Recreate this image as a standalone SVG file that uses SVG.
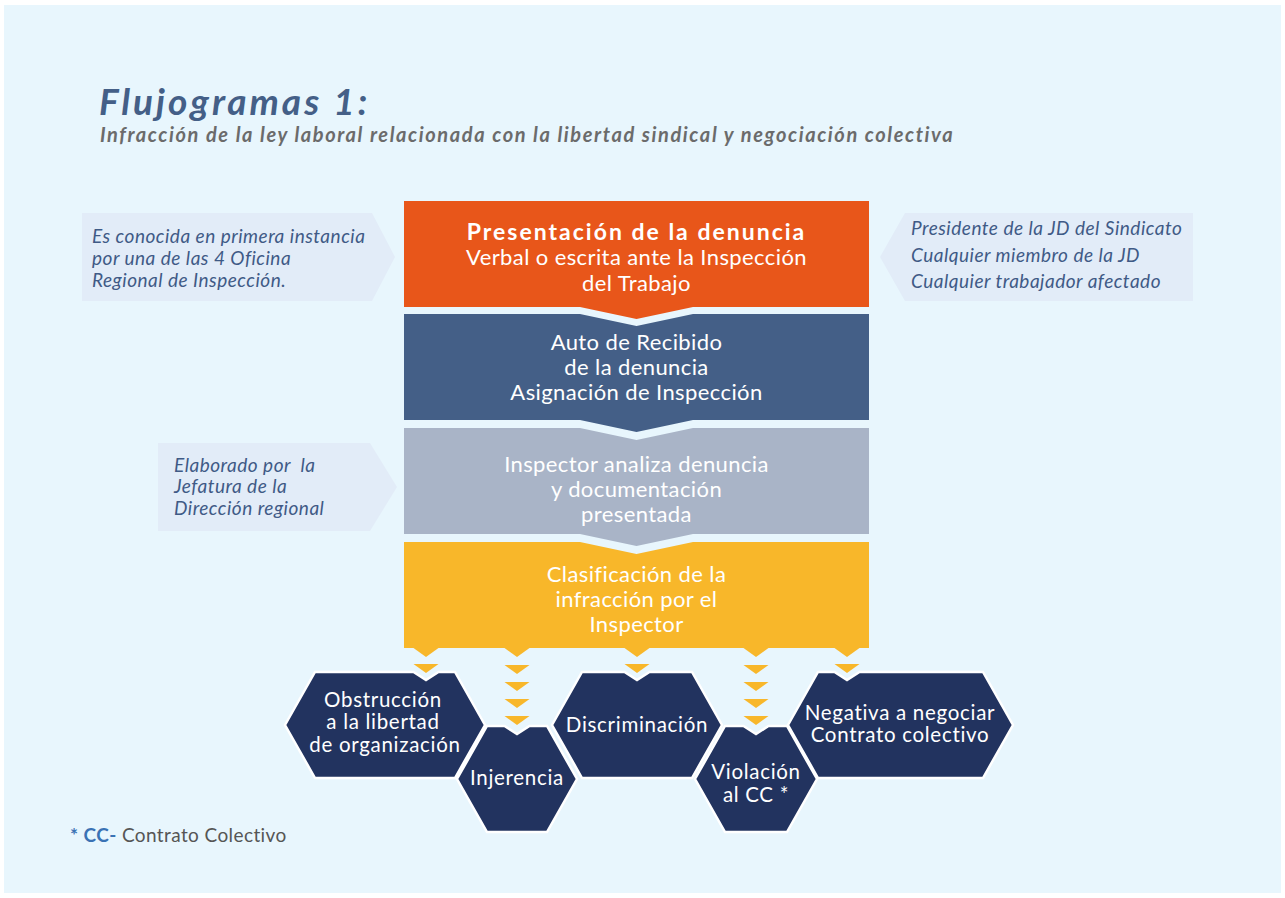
<svg xmlns="http://www.w3.org/2000/svg" width="1285" height="898" viewBox="0 0 1285 898">
<style>
text{font-family:Lato,"Open Sans","Liberation Sans",sans-serif}
.bx{fill:#fff;font-size:22px;letter-spacing:0.4px;text-anchor:middle}
.hx{fill:#fff;font-size:20.5px;letter-spacing:0.7px;text-anchor:middle}
.co{fill:#3F5A86;font-size:19px;letter-spacing:0.5px;font-style:italic}
.callout{fill:#E2ECF8}
.hex{fill:#22335F;stroke:#fff;stroke-width:2.5;stroke-linejoin:miter}
.tri{fill:#F8B72A}
</style>
<defs>
<path id="t" d="M-12.5,0 H12.5 L0,9 Z"/>
</defs>
<rect x="0" y="0" width="1285" height="898" fill="#fff"/>
<rect x="4" y="5" width="1277" height="888" fill="#E8F6FD"/>
<g id="title">
<text x="99" y="115" font-size="37" font-weight="bold" font-style="italic" letter-spacing="3" fill="#445F87">Flujogramas 1:</text>
<text x="100" y="142" font-size="20" font-weight="bold" font-style="italic" letter-spacing="1.6" fill="#6B6B6B">Infracción de la ley laboral relacionada con la libertad sindical y negociación colectiva</text>
</g>
<g id="callout-left1">
<path class="callout" d="M82,213 H372 L395,257 L372,301 H82 Z"/>
<text class="co" x="92" y="243">Es conocida en primera instancia</text>
<text class="co" x="92" y="265">por una de las 4 Oficina</text>
<text class="co" x="92" y="287">Regional de Inspección.</text>
</g>
<g id="callout-right">
<path class="callout" d="M880,257 L905,213 H1193 V301 H905 Z"/>
<text class="co" x="911" y="235">Presidente de la JD del Sindicato</text>
<text class="co" x="911" y="262">Cualquier miembro de la JD</text>
<text class="co" x="911" y="288">Cualquier trabajador afectado</text>
</g>
<g id="callout-left2">
<path class="callout" d="M158,443 H370 L397,487 L370,531 H158 Z"/>
<text class="co" x="174" y="472">Elaborado por&#160; la</text>
<text class="co" x="174" y="493">Jefatura de la</text>
<text class="co" x="174" y="515">Dirección regional</text>
</g>
<g id="presentacion">
<path d="M404,201 H869 V307 H693 L636.5,319 L580,307 H404 Z" fill="#E8561A"/>
<text class="bx" x="636.5" y="240" font-weight="bold" style="font-size:23px;letter-spacing:2px">Presentación de la denuncia</text>
<text class="bx" x="636.5" y="265">Verbal o escrita ante la Inspección</text>
<text class="bx" x="636.5" y="291">del Trabajo</text>
</g>
<g id="auto">
<path d="M404,314 H580 L636.5,326 L693,314 H869 V420 H693 L636.5,432 L580,420 H404 Z" fill="#445F87"/>
<text class="bx" x="636.5" y="350">Auto de Recibido</text>
<text class="bx" x="636.5" y="375">de la denuncia</text>
<text class="bx" x="636.5" y="400">Asignación de Inspección</text>
</g>
<g id="inspector">
<path d="M404,428 H580 L636.5,440 L693,428 H869 V534 H693 L636.5,546 L580,534 H404 Z" fill="#A9B4C7"/>
<text class="bx" x="636.5" y="472">Inspector analiza denuncia</text>
<text class="bx" x="636.5" y="497">y documentación</text>
<text class="bx" x="636.5" y="522">presentada</text>
</g>
<g id="clasificacion">
<path d="M404,542 H580 L636.5,554 L693,542 H869 V648 H404 Z" fill="#F8B72A"/>
<text class="bx" x="636.5" y="582">Clasificación de la</text>
<text class="bx" x="636.5" y="607">infracción por el</text>
<text class="bx" x="636.5" y="632">Inspector</text>
</g>
<g id="obstruccion">
<path class="hex" d="M285,725 L315,672 H413.5 L426,680 L438.5,672 H455 L485,725 L455,778 H315 Z"/>
<text class="hx" x="383" y="707">Obstrucción</text>
<text class="hx" x="383" y="729">a la libertad</text>
<text class="hx" x="385" y="752">de organización</text>
</g>
<g id="discriminacion">
<path class="hex" d="M552,725 L582,672 H624.5 L637,680 L649.5,672 H692 L722,725 L692,778 H582 Z"/>
<text class="hx" x="637" y="732">Discriminación</text>
</g>
<g id="negativa">
<path class="hex" d="M788,725 L818,672 H834.5 L847,680 L859.5,672 H983 L1013,725 L983,778 H818 Z"/>
<text class="hx" x="900" y="720">Negativa a negociar</text>
<text class="hx" x="900" y="742">Contrato colectivo</text>
</g>
<g id="injerencia">
<path class="hex" d="M457,779 L487,726 H504.5 L517,734 L529.5,726 H547 L577,779 L547,832 H487 Z"/>
<text class="hx" x="517" y="785">Injerencia</text>
</g>
<g id="violacion">
<path class="hex" d="M695,779 L725,726 H743.5 L756,734 L768.5,726 H787 L817,779 L787,832 H725 Z"/>
<text class="hx" x="756" y="779">Violación</text>
<text class="hx" x="756" y="802">al CC *</text>
</g>
<g id="connectors">
<use href="#t" class="tri" x="426" y="648"/>
<use href="#t" class="tri" x="426" y="664"/>
<use href="#t" class="tri" x="517" y="648"/>
<use href="#t" class="tri" x="517" y="665"/>
<use href="#t" class="tri" x="517" y="682"/>
<use href="#t" class="tri" x="517" y="699"/>
<use href="#t" class="tri" x="517" y="716"/>
<use href="#t" class="tri" x="637" y="648"/>
<use href="#t" class="tri" x="637" y="664"/>
<use href="#t" class="tri" x="756" y="648"/>
<use href="#t" class="tri" x="756" y="665"/>
<use href="#t" class="tri" x="756" y="682"/>
<use href="#t" class="tri" x="756" y="699"/>
<use href="#t" class="tri" x="756" y="716"/>
<use href="#t" class="tri" x="847" y="648"/>
<use href="#t" class="tri" x="847" y="664"/>
</g>
<g id="footnote">
<text x="70" y="842" font-size="19" letter-spacing="0.4"><tspan fill="#3A72B4" font-weight="bold">* CC-</tspan><tspan fill="#555"> Contrato Colectivo</tspan></text>
</g>
</svg>
